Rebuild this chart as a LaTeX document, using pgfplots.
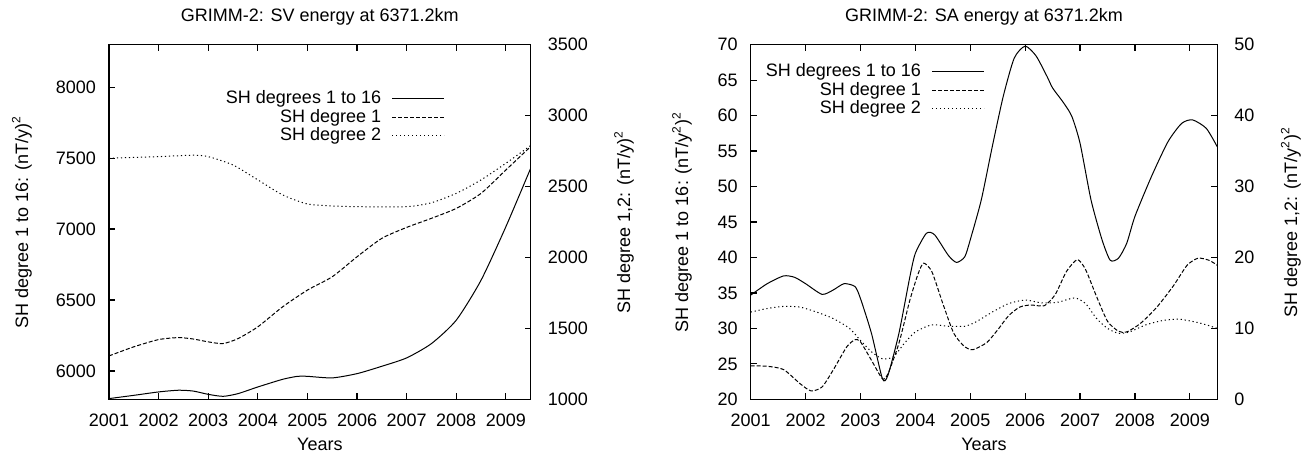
\documentclass[border=0pt]{standalone}
\usepackage{pgfplots}
\pgfplotsset{compat=1.18}
\usepackage{fontspec}
\setmainfont{Liberation Sans}
\pgfplotsset{
  every axis/.append style={font=\fontsize{9}{10.8}\selectfont},
  every axis title shift=0pt,
  /pgf/number format/assume math mode=true,
  /pgf/number format/1000 sep={},
  panel/.style={scale only axis, anchor=south west, height=177.3pt,
    xmin=2001, xmax=2009.5, xtick={2001,2002,...,2009},
    tick align=inside, major tick length=3pt,
    axis line style={line width=0.6pt},
    every tick/.style={black, line width=0.6pt},
    xticklabel style={yshift=-3.7pt},
    title style={anchor=base},
    xlabel style={anchor=base},
  },
  s1/.style={black, line width=0.5pt, smooth, tension=0.4},
  s2/.style={black, line width=0.5pt, dash pattern=on 2pt off 1pt, smooth, tension=0.4},
  s3/.style={black, line width=0.5pt, dash pattern=on 0.6pt off 1.4pt, smooth, tension=0.4},
  leg/.style={legend plot pos=right, legend cell align=right,
    legend image code/.code={\draw[##1] (0pt,0pt) -- (26pt,0pt);},
    legend style={draw=none, fill=none, inner sep=0pt, column sep=5pt, row sep=0pt,
      nodes={text height=6.8pt, text depth=1.9pt, inner sep=0.3pt}}},
}
\begin{document}
\begin{tikzpicture}
\useasboundingbox (0pt,0pt) rectangle (653pt,228.5pt);
% ---------------- Left panel ----------------
\begin{axis}[panel, at={(54.5pt,28.85pt)}, width=210.85pt,
  ymin=5800, ymax=8300, ytick={6000,6500,...,8000}, ytick pos=left,
  yticklabel style={xshift=-3pt},
  title={GRIMM-2: SV energy at 6371.2km},
  title style={at={(axis description cs:0.5,1.0668)}},
  xlabel={Years}, xlabel style={at={(axis description cs:0.5,-0.143)}},
  ylabel={SH degree 1 to 16: (nT/y)\textsuperscript{2}},
  ylabel style={at={(axis description cs:-0.192,0.5)}, anchor=base},
]
\addplot[s1] coordinates {
(2001.0,5805) (2001.5,5828) (2002.0,5852) (2002.4,5864) (2002.7,5858) (2003.0,5835) (2003.3,5821)
(2003.6,5840) (2004.0,5887) (2004.5,5941) (2004.8,5962) (2005.0,5962) (2005.5,5951)
(2006.0,5981) (2006.5,6033) (2007.0,6092) (2007.5,6193) (2008.0,6358) (2008.5,6640)
(2009.0,7017) (2009.5,7429)};
\end{axis}
\begin{axis}[panel, at={(54.5pt,28.85pt)}, width=210.85pt,
  ymin=1000, ymax=3500, ytick={1000,1500,...,3500},
  axis y line*=right, axis x line=none,
  yticklabel style={xshift=5pt},
  ylabel={SH degree 1,2: (nT/y)\textsuperscript{2}},
  ylabel style={at={(axis description cs:1.236,0.5)}, anchor=base, rotate=0},
  leg, legend style={at={(axis description cs:0.797,0.875)}, anchor=north east},
]
\addlegendimage{s1}
\addlegendentry{SH degrees 1 to 16}
\addplot[s2] coordinates {
(2001.0,1306) (2001.5,1370) (2002.0,1421) (2002.4,1435) (2002.7,1425) (2003.0,1405) (2003.3,1393)
(2003.6,1428) (2004.0,1511) (2004.5,1652) (2005.0,1770) (2005.5,1864) (2006.0,2005)
(2006.5,2135) (2007.0,2212) (2007.5,2276) (2008.0,2346) (2008.5,2452) (2009.0,2617) (2009.5,2782)};
\addlegendentry{SH degree 1}
\addplot[s3] coordinates {
(2001.0,2700) (2002.0,2711) (2002.7,2721) (2003.0,2711) (2003.5,2652) (2004.0,2547)
(2004.5,2441) (2005.0,2377) (2005.5,2363) (2006.0,2358) (2007.0,2358) (2007.5,2386)
(2008.0,2452) (2008.5,2547) (2009.0,2664) (2009.5,2789)};
\addlegendentry{SH degree 2}
\end{axis}
% ---------------- Right panel ----------------
\begin{axis}[panel, at={(375.35pt,28.85pt)}, width=233.3pt,
  ymin=20, ymax=70, ytick={20,25,...,70}, ytick pos=left,
  yticklabel style={xshift=-3pt},
  title={GRIMM-2: SA energy at 6371.2km},
  title style={at={(axis description cs:0.5,1.0668)}},
  xlabel={Years}, xlabel style={at={(axis description cs:0.5,-0.143)}},
  ylabel={SH degree 1 to 16: (nT/y\textsuperscript{2})\textsuperscript{2}},
  ylabel style={at={(axis description cs:-0.134,0.5)}, anchor=base},
]
\addplot[s1] coordinates {
(2001.0,34.69) (2001.3,36.3) (2001.6,37.4) (2001.8,37.2) (2002.0,36.3) (2002.3,34.8)
(2002.5,35.4) (2002.7,36.3) (2002.9,35.9) (2003.0,34.2) (2003.2,29.3) (2003.4,22.9)
(2003.5,23.4) (2003.7,29.3) (2003.9,37.3) (2004.0,40.6) (2004.2,43.4) (2004.35,43.2)
(2004.6,40.3) (2004.75,39.3) (2004.9,40.1) (2005.0,42.5) (2005.2,48.1) (2005.4,55.6)
(2005.6,62.7) (2005.8,68.1) (2006.0,69.8) (2006.2,68.4) (2006.4,65.5) (2006.5,63.9)
(2006.7,61.8) (2006.85,59.9) (2007.0,56.1) (2007.2,48.1) (2007.4,42.5) (2007.55,39.6)
(2007.7,39.9) (2007.85,42.0) (2008.0,45.8) (2008.3,51.4) (2008.6,56.3) (2008.85,58.9)
(2009.05,59.4) (2009.3,58.2) (2009.5,55.6)};
\end{axis}
\begin{axis}[panel, at={(375.35pt,28.85pt)}, width=233.3pt,
  ymin=0, ymax=50, ytick={0,10,...,50},
  axis y line*=right, axis x line=none,
  yticklabel style={xshift=5pt},
  ylabel={SH degree 1,2: (nT/y\textsuperscript{2})\textsuperscript{2}},
  ylabel style={at={(axis description cs:1.171,0.5)}, anchor=base, rotate=0},
  leg, legend style={at={(axis description cs:0.502,0.951)}, anchor=north east},
]
\addlegendimage{s1}
\addlegendentry{SH degrees 1 to 16}
\addplot[s2] coordinates {
(2001.0,4.7) (2001.3,4.66) (2001.6,4.19) (2001.9,2.2) (2002.1,1.18) (2002.3,1.74)
(2002.5,4.1) (2002.75,7.4) (2002.9,8.4) (2003.0,8.1) (2003.2,5.5) (2003.4,2.9)
(2003.5,3.6) (2003.7,7.9) (2003.9,14.0) (2004.05,17.7) (2004.15,19.2) (2004.3,18.0)
(2004.5,13.5) (2004.7,9.3) (2004.9,7.4) (2005.05,7.0) (2005.3,8.0) (2005.5,9.8)
(2005.7,11.8) (2005.9,13.0) (2006.1,13.3) (2006.35,13.2) (2006.55,14.8) (2006.75,18.0)
(2006.95,19.7) (2007.1,18.3) (2007.3,14.5) (2007.5,11.0) (2007.7,9.6) (2007.85,9.5)
(2008.1,10.7) (2008.4,13.0) (2008.7,16.0) (2008.95,18.9) (2009.15,19.9) (2009.35,19.6)
(2009.5,18.9)};
\addlegendentry{SH degree 1}
\addplot[s3] coordinates {
(2001.0,12.3) (2001.3,12.8) (2001.6,13.1) (2001.9,13.0) (2002.2,12.3) (2002.5,11.4)
(2002.8,10.0) (2003.0,8.3) (2003.2,6.7) (2003.4,5.7) (2003.6,6.0) (2003.8,7.9)
(2004.0,9.5) (2004.3,10.5) (2004.6,10.3) (2004.9,10.3) (2005.1,10.9) (2005.4,12.3)
(2005.7,13.5) (2006.0,14.0) (2006.3,13.6) (2006.6,13.7) (2006.9,14.3) (2007.1,13.5)
(2007.3,11.4) (2007.5,10.0) (2007.7,9.3) (2007.9,9.5) (2008.2,10.5) (2008.5,11.1)
(2008.8,11.3) (2009.1,10.9) (2009.3,10.5) (2009.5,10.0)};
\addlegendentry{SH degree 2}
\end{axis}
\end{tikzpicture}
\end{document}
